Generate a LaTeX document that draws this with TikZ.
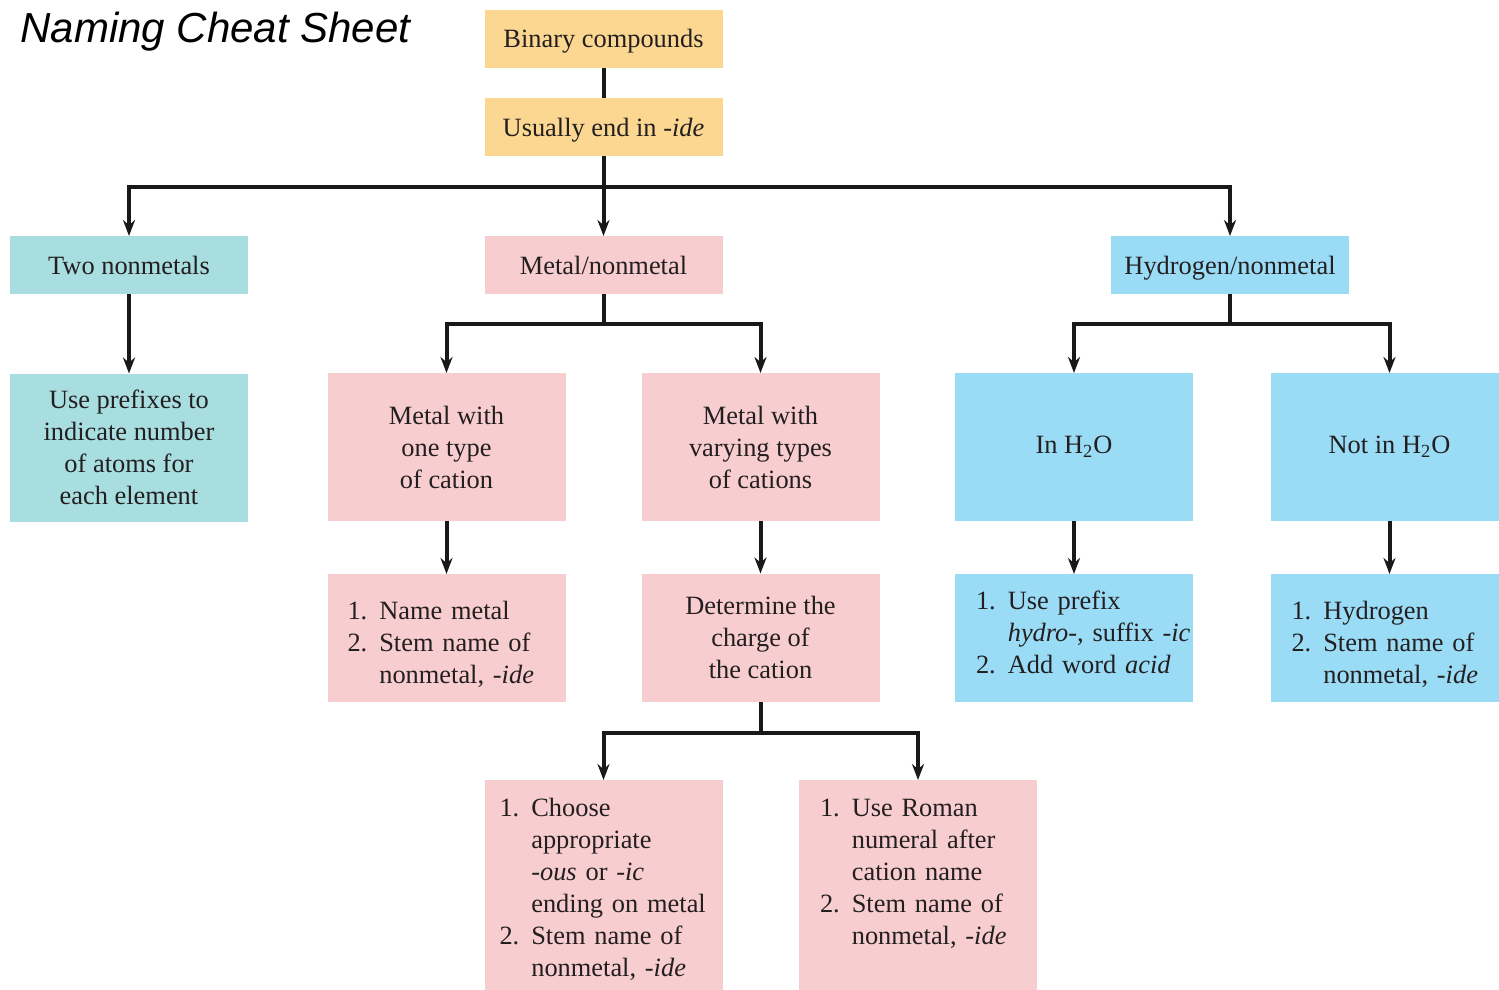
\documentclass[tikz,border=0pt]{standalone}
\usepackage{fontspec}
\setmainfont{Liberation Serif}
\setsansfont{Liberation Sans}
\usetikzlibrary{arrows.meta}
\definecolor{cyel}{HTML}{FBD791}
\definecolor{cpink}{HTML}{F8CDD0}
\definecolor{cteal}{HTML}{A8DEE0}
\definecolor{cblue}{HTML}{9ADCF5}
\definecolor{ctext}{HTML}{231F20}
\begin{document}
\begin{tikzpicture}[x=0.5pt,y=-0.5pt,
  box/.style={inner sep=0pt, outer sep=0pt, minimum width=119pt, text=ctext,
    font={\fontsize{13.2}{16}\selectfont}, align=center},
  shortbox/.style={box, minimum height=29pt, text height=11pt, text depth=2pt},
  midbox/.style={box, minimum height=74pt},
  lowbox/.style={box, minimum height=64pt},
  lowlist/.style 2 args={box, anchor=north, align=left, text width=#1,
    inner ysep=0pt, text height=#2, text depth=64pt-#2},
  tallbox/.style={box, anchor=north, align=left, text width=#1,
    inner ysep=8pt, text height=10pt, text depth=130pt},
  link/.style={line width=2pt, draw=black!90},
  arr/.style={link, -{Stealth[length=8pt,width=6pt]}},
]
\useasboundingbox (0,0) rectangle (1499,990);
\fill[white] (0,0) rectangle (1499,990);
\newcommand{\numlist}[1]{\begin{tabular}[t]{@{}l@{\hspace{6pt}}l@{}}#1\end{tabular}}

\node[anchor=base west, inner sep=0pt, font={\sffamily\itshape\fontsize{21}{24}\selectfont}] (title) at (20,43) {Naming Cheat Sheet};

\node[shortbox, fill=cyel] (bin) at (603.5,39) {Binary compounds};
\node[shortbox, fill=cyel] (usu) at (603.5,127) {Usually end in \textit{-ide}};

\node[shortbox, fill=cteal] (two) at (129,265) {Two nonmetals};
\node[shortbox, fill=cpink] (met) at (603.5,265) {Metal/nonmetal};
\node[shortbox, fill=cblue] (hyd) at (1230,265) {Hydrogen/nonmetal};

\node[midbox, fill=cteal] (pre) at (129,447.5) {Use prefixes to\\indicate number\\of atoms for\\each element};
\node[midbox, fill=cpink] (one) at (446.5,447) {Metal with\\one type\\of cation};
\node[midbox, fill=cpink] (var) at (760.5,447) {Metal with\\varying types\\of cations};
\node[midbox, fill=cblue] (inw) at (1074,447) {In H\textsubscript{2}O};
\node[midbox, fill=cblue] (not) at (1389.5,447) {Not in H\textsubscript{2}O};

\node[lowlist={99pt}{22.5pt}, fill=cpink] (nam) at (446.5,574)
  {\numlist{1. & Name metal\\ 2. & Stem name of\\ & nonmetal, \textit{-ide}}};
\node[lowbox, fill=cpink] (det) at (760.5,637.5) {Determine the\\charge of\\the cation};
\node[lowlist={98pt}{17.5pt}, fill=cblue] (usp) at (1074,574)
  {\numlist{1. & Use prefix\\ & \textit{hydro-}, suffix \textit{-ic}\\ 2. & Add word \textit{acid}}};
\node[lowlist={98pt}{22.5pt}, fill=cblue] (hyn) at (1389.5,574)
  {\numlist{1. & Hydrogen\\ 2. & Stem name of\\ & nonmetal, \textit{-ide}}};

\node[tallbox=104pt, fill=cpink] (cho) at (603.5,780)
  {\numlist{1. & Choose\\ & appropriate\\ & \textit{-ous} or \textit{-ic}\\ & ending on metal\\ 2. & Stem name of\\ & nonmetal, \textit{-ide}}};
\node[tallbox=98pt, fill=cpink] (rom) at (918,780)
  {\numlist{1. & Use Roman\\ & numeral after\\ & cation name\\ 2. & Stem name of\\ & nonmetal, \textit{-ide}}};

\coordinate (j1) at (603.5,187);
\coordinate (j2) at (603.5,324);
\coordinate (j3) at (1230,324);
\coordinate (j4) at (760.5,733);

\draw[link] (bin) -- (usu);
\draw[link] (usu) -- (j1);
\draw[arr] (j1) -| (two);
\draw[arr] (j1) -- (met);
\draw[arr] (j1) -| (hyd);
\draw[arr] (two) -- (pre);
\draw[link] (met) -- (j2);
\draw[arr] (j2) -| (one);
\draw[arr] (j2) -| (var);
\draw[link] (hyd) -- (j3);
\draw[arr] (j3) -| (inw);
\draw[arr] (j3) -| (not);
\draw[arr] (one) -- (nam);
\draw[arr] (var) -- (det);
\draw[arr] (inw) -- (usp);
\draw[arr] (not) -- (hyn);
\draw[link] (det) -- (j4);
\draw[arr] (j4) -| (cho);
\draw[arr] (j4) -| (rom);
\end{tikzpicture}
\end{document}
